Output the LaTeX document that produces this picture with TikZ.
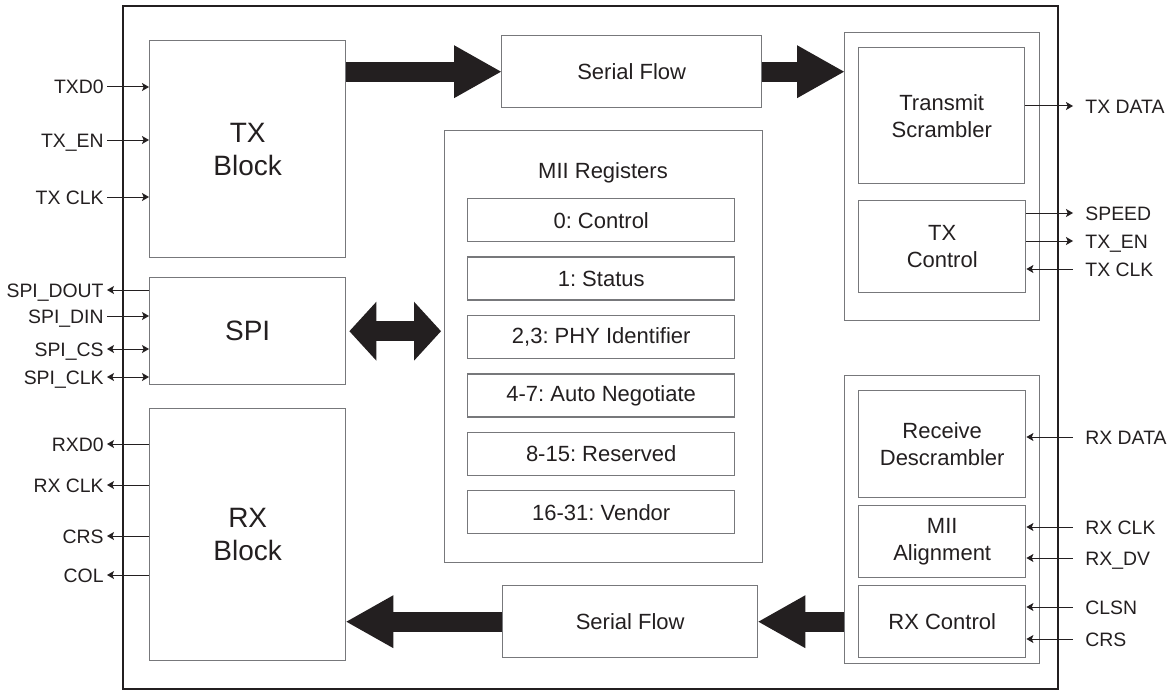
\documentclass[tikz,border=0pt]{standalone}
\usepackage{fontspec}
\setmainfont{Liberation Sans}
\usetikzlibrary{positioning, arrows.meta, calc}
\definecolor{ink}{HTML}{231F20}
\definecolor{edge}{HTML}{77787B}
\newcommand{\sigfont}{\fontsize{9.7}{11.5}\selectfont}
\newcommand{\boxfont}{\fontsize{11}{13.5}\selectfont}
\newcommand{\bigfont}{\fontsize{14}{16.5}\selectfont}
\frenchspacing

\begin{document}
\begin{tikzpicture}[
  x=0.5pt, y=-0.5pt,
  >={Stealth[length=3.5pt,width=4pt,inset=0.8pt]},
  every node/.style={text=ink},
  chip/.style={draw=ink, line width=1pt, anchor=north west, inner sep=0pt},
  block/.style={draw=edge, line width=0.7pt, anchor=north west, inner sep=0pt,
                align=center, font=\bigfont},
  unit/.style={draw=edge, line width=0.7pt, anchor=north west, inner sep=0pt,
               align=center, font=\boxfont},
  reg/.style={unit, minimum width=133.5pt, minimum height=21.5pt},
  sigl/.style={anchor=east, inner xsep=1.5pt, inner ysep=0pt,
               text height=7pt, text depth=0pt, font=\sigfont},
  sigr/.style={anchor=west, inner xsep=6pt, inner ysep=0pt,
               text height=7pt, text depth=0pt, font=\sigfont},
  wire/.style={draw=ink, line width=0.5pt},
  fat/.style={draw=ink, line width=10pt,
              -{Triangle[length=23.5pt,width=26.5pt,line width=0pt]}},
  fatboth/.style={draw=ink, line width=10pt,
                  {Triangle[length=13.5pt,width=29.5pt,line width=0pt]}-{Triangle[length=13.5pt,width=29.5pt,line width=0pt]}}
]
\useasboundingbox (0,0) rectangle (1176,690);

% ---- CHIP OUTLINE ----
\node[chip, minimum width=467.5pt, minimum height=341.5pt] (chip) at (122,5) {};

% ==== LEFT: MII side blocks ====
\node[block, minimum width=98pt, minimum height=108.5pt] (txblock) at (149,40) {TX\\Block};
\node[block, minimum width=98pt, minimum height=53.5pt] (spi) at (149,277) {SPI};
\node[block, minimum width=98pt, minimum height=126pt] (rxblock) at (149,408) {RX\\Block};

% ==== MIDDLE: serial paths and registers ====
\node[unit, minimum width=130pt, minimum height=36pt] (sertx) at (501,35) {Serial Flow};
\node[unit, minimum width=127.5pt, minimum height=36pt] (serrx) at (502,585) {Serial Flow};

\node[unit, minimum width=159pt, minimum height=216pt] (mii) at (444,130) {};
\node[font=\boxfont] (miititle) at (603,173) {MII Registers};
\foreach \i/\t in {0/{0: Control}, 1/{1: Status}, 2/{2,3: PHY Identifier},
                   3/{4-7: Auto Negotiate}, 4/{8-15: Reserved}, 5/{16-31: Vendor}}
  \node[reg] (reg\i) at (467,198+58.4*\i) {\t};

% ==== RIGHT: PCS side ====
\node[unit, minimum width=97.5pt, minimum height=144pt] (txpcs) at (844,32) {};
\node[unit, minimum width=83pt, minimum height=68pt] (scram) at (858,47) {Transmit\\Scrambler};
\node[unit, minimum width=83.5pt, minimum height=46pt] (txctl) at (858,200) {TX\\Control};

\node[unit, minimum width=97.5pt, minimum height=144pt] (rxpcs) at (844,375) {};
\node[unit, minimum width=83.5pt, minimum height=53.5pt] (descram) at (858,390) {Receive\\Descrambler};
\node[unit, minimum width=83.5pt, minimum height=36pt] (mialign) at (858,505) {MII\\Alignment};
\node[unit, minimum width=83.5pt, minimum height=36pt] (rxctl) at (858,585) {RX Control};

% ---- data flow arrows ----
\draw[fat] (sertx.west -| txblock.east) -- (sertx.west);
\draw[fat] (sertx.east) -- (sertx.east -| txpcs.west);
\draw[fat] (serrx.east -| rxpcs.west) -- (serrx.east);
\draw[fat] (serrx.west) -- (serrx.west -| rxblock.east);
\draw[fatboth, shorten <=1.5pt, shorten >=1.5pt] (spi.east) -- (spi.east -| mii.west);

% ---- left pins ----
\foreach \y/\t/\dir/\dest [count=\i] in {87/TXD0/->/txblock, 140/TX\_EN/->/txblock,
    197/TX CLK/->/txblock, 290/SPI\_DOUT/<-/spi, 316/SPI\_DIN/->/spi,
    349/SPI\_CS/<->/spi, 377/SPI\_CLK/<->/spi, 444/RXD0/<-/rxblock,
    485/RX CLK/<-/rxblock, 536/CRS/<-/rxblock, 575/COL/<-/rxblock}
{
  \node[sigl] (pin\i) at (107,\y) {\t};
  \draw[wire,\dir] (pin\i.east) -- (pin\i.east -| \dest.west);
}

% ---- right pins ----
\foreach \y/\t/\dir/\src [count=\i] in {106/TX DATA/->/scram, 213/SPEED/->/txctl,
    241/TX\_EN/->/txctl, 269/TX CLK/<-/txctl, 437/RX DATA/<-/descram,
    527/RX CLK/<-/mialign, 558/RX\_DV/<-/mialign, 607/CLSN/<-/rxctl, 639/CRS/<-/rxctl}
{
  \node[sigr] (pout\i) at (1073,\y) {\t};
  \draw[wire,\dir] (pout\i.west -| \src.east) -- (pout\i.west);
}

\end{tikzpicture}
\end{document}
